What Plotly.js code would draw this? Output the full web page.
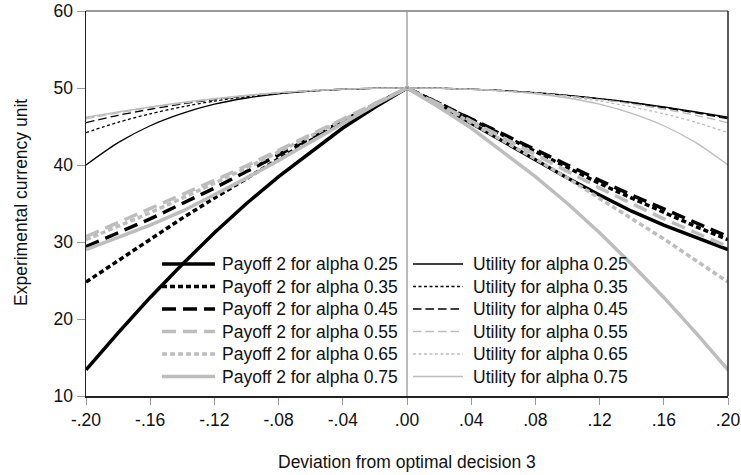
<!DOCTYPE html>
<html>
<head>
<meta charset="utf-8">
<script src="https://cdn.plot.ly/plotly-3.0.1.min.js"></script>
<style>html,body{margin:0;padding:0;background:#fff;}#chart{width:741px;height:475px;}</style>
</head>
<body>
<div id="chart"></div>
<script>
// Deviation from optimal decision (x axis)
var deviation = [-0.20,-0.18,-0.16,-0.14,-0.12,-0.10,-0.08,-0.06,-0.04,-0.02,0,0.02,0.04,0.06,0.08,0.10,0.12,0.14,0.16,0.18,0.20];

// Payoff 2 series
var payoff25 = [13.4,18.2,22.8,27.1,31.2,35.0,38.5,41.7,44.8,47.5,50,47.8,45.4,43.0,40.6,38.3,36.1,34.0,32.2,30.6,29.0];
var payoff35 = [24.8,27.6,30.4,33.1,35.7,38.3,40.8,43.2,45.5,47.8,50,48.0,45.9,43.8,41.7,39.6,37.6,35.7,33.8,32.0,30.3];
var payoff45 = [29.4,31.2,33.0,35.0,37.0,39.15,41.3,43.5,45.7,47.9,50,48.0,46.0,43.9,41.9,39.9,38.0,36.1,34.3,32.5,30.7];
var payoff55 = [30.7,32.5,34.3,36.1,38.0,39.9,41.9,43.9,46.0,48.0,50,47.9,45.7,43.5,41.3,39.15,37.0,35.0,33.0,31.2,29.4];
var payoff65 = [30.3,32.0,33.8,35.7,37.6,39.6,41.7,43.8,45.9,48.0,50,47.8,45.5,43.2,40.8,38.3,35.7,33.1,30.4,27.6,24.8];
var payoff75 = [29.0,30.6,32.2,34.0,36.1,38.3,40.6,43.0,45.4,47.8,50,47.5,44.8,41.7,38.5,35.0,31.2,27.1,22.8,18.2,13.4];

// Utility series
var util25 = [40.0,42.9,45.1,46.7,47.9,48.7,49.25,49.6,49.84,49.96,50,49.96,49.85,49.66,49.4,49.05,48.63,48.13,47.55,46.9,46.2];
var util35 = [44.2,45.55,46.65,47.55,48.3,48.85,49.3,49.6,49.83,49.96,50,49.96,49.85,49.65,49.38,49.03,48.6,48.1,47.5,46.85,46.1];
var util45 = [45.5,46.45,47.24,47.93,48.5,48.97,49.35,49.64,49.84,49.96,50,49.96,49.84,49.64,49.36,49.0,48.56,48.04,47.44,46.76,46.0];
var util55 = [46.0,46.76,47.44,48.04,48.56,49.0,49.36,49.64,49.84,49.96,50,49.96,49.84,49.64,49.35,48.97,48.5,47.93,47.24,46.45,45.5];
var util65 = [46.1,46.85,47.5,48.1,48.6,49.03,49.38,49.65,49.85,49.96,50,49.96,49.83,49.6,49.3,48.85,48.3,47.55,46.65,45.55,44.2];
var util75 = [46.2,46.9,47.55,48.13,48.63,49.05,49.4,49.66,49.85,49.96,50,49.96,49.84,49.6,49.25,48.7,47.9,46.7,45.1,42.9,40.0];

var payoffNames = ["Payoff 2 for alpha 0.25","Payoff 2 for alpha 0.35","Payoff 2 for alpha 0.45","Payoff 2 for alpha 0.55","Payoff 2 for alpha 0.65","Payoff 2 for alpha 0.75"];
var utilNames = ["Utility for alpha 0.25","Utility for alpha 0.35","Utility for alpha 0.45","Utility for alpha 0.55","Utility for alpha 0.65","Utility for alpha 0.75"];

var xTickVals = [-0.20,-0.16,-0.12,-0.08,-0.04,0,0.04,0.08,0.12,0.16,0.20];
var xTickText = ["-.20","-.16","-.12","-.08","-.04",".00",".04",".08",".12",".16",".20"];
var yTickVals = [10,20,30,40,50,60];
var xTitle = "Deviation from optimal decision 3";
var yTitle = "Experimental currency unit";

var BLACK = "#000000", GRAY = "#bdbdbd";
var payoffData = [payoff25,payoff35,payoff45,payoff55,payoff65,payoff75];
var utilData = [util25,util35,util45,util55,util65,util75];
var payoffStyle = [
  {color:BLACK, dash:"solid"},
  {color:BLACK, dash:"5px,3px"},
  {color:BLACK, dash:"14px,7px"},
  {color:GRAY, dash:"14px,7px"},
  {color:GRAY, dash:"5px,3px"},
  {color:GRAY, dash:"solid"}
];
var utilStyle = [
  {color:BLACK, dash:"solid"},
  {color:BLACK, dash:"3px,2.5px"},
  {color:BLACK, dash:"8.5px,4px"},
  {color:GRAY, dash:"8.5px,4px"},
  {color:GRAY, dash:"3px,2.5px"},
  {color:GRAY, dash:"solid"}
];
var THICK = 3.5, THIN = 1.3;

var traces = [];
for (var i = 0; i < 6; i++) {
  traces.push({
    x: deviation, y: payoffData[i], type: "scatter", mode: "lines", name: payoffNames[i],
    line: {color: payoffStyle[i].color, dash: payoffStyle[i].dash, width: THICK},
    showlegend: false, hoverinfo: "skip"
  });
}
for (var j = 0; j < 6; j++) {
  traces.push({
    x: deviation, y: utilData[j], type: "scatter", mode: "lines", name: utilNames[j],
    line: {color: utilStyle[j].color, dash: utilStyle[j].dash, width: THIN, shape: "spline", smoothing: 0.8},
    showlegend: false, hoverinfo: "skip"
  });
}

var FONT = "Liberation Sans, Arial, Helvetica, sans-serif";
var FS = 17.5;
var W = 741, H = 475, ML = 86, MR = 13, MT = 11, MB = 79;
var PW = W - ML - MR, PH = H - MT - MB;
function px(X) { return (X - ML) / PW; }
function py(Y) { return (H - MB - Y) / PH; }

var shapes = [
  {type: "line", xref: "x", yref: "paper", x0: 0, x1: 0, y0: 0, y1: 1, line: {color: "#a6a6a6", width: 1.5}, layer: "below"},
  {type: "line", xref: "paper", yref: "paper", x0: 0, x1: 1, y0: 1, y1: 1, line: {color: "#999", width: 2}},
  {type: "line", xref: "paper", yref: "paper", x0: 1, x1: 1, y0: 0, y1: 1, line: {color: "#222", width: 1.5}}
];
var annotations = [
  {xref: "paper", yref: "paper", x: 0.5, y: py(462), xanchor: "center", yanchor: "middle",
   showarrow: false, text: xTitle, font: {family: FONT, size: FS, color: "#111"}},
  {xref: "paper", yref: "paper", x: px(21), y: py(203), xanchor: "center", yanchor: "middle",
   showarrow: false, textangle: -90, text: yTitle, font: {family: FONT, size: FS, color: "#111"}}
];

// Legend (two columns, drawn as shapes + text annotations)
var rowY0 = 264, rowStep = 22.5;
var cols = [
  {lx0: 162, lx1: 215, tx: 220, names: payoffNames, styles: payoffStyle, w: THICK},
  {lx0: 413, lx1: 463, tx: 471, names: utilNames, styles: utilStyle, w: THIN}
];
cols.forEach(function (c) {
  for (var r = 0; r < 6; r++) {
    var Y = rowY0 + r * rowStep;
    shapes.push({type: "line", xref: "paper", yref: "paper",
      x0: px(c.lx0), x1: px(c.lx1), y0: py(Y), y1: py(Y),
      line: {color: c.styles[r].color, dash: c.styles[r].dash, width: c.w}});
    annotations.push({xref: "paper", yref: "paper", x: px(c.tx), y: py(Y),
      xanchor: "left", yanchor: "middle", showarrow: false, text: c.names[r],
      font: {family: FONT, size: FS, color: "#111"}});
  }
});

var layout = {
  width: W, height: H,
  margin: {l: ML, r: MR, t: MT, b: MB},
  paper_bgcolor: "#ffffff", plot_bgcolor: "#ffffff",
  font: {family: FONT, size: FS, color: "#111111"},
  showlegend: false,
  xaxis: {
    range: [-0.2, 0.2], tickvals: xTickVals, ticktext: xTickText,
    ticks: "outside", ticklen: 7, tickcolor: "#999", tickwidth: 1,
    showline: true, linecolor: "#222", linewidth: 1.5,
    showgrid: false, zeroline: false, automargin: false,
    tickfont: {family: FONT, size: FS, color: "#111"}
  },
  yaxis: {
    range: [10, 60], tickvals: yTickVals,
    ticks: "outside", ticklen: 8, tickcolor: "#999", tickwidth: 1,
    showline: true, linecolor: "#222", linewidth: 1.5,
    showgrid: false, zeroline: false, automargin: false,
    tickfont: {family: FONT, size: FS, color: "#111"}
  },
  shapes: shapes,
  annotations: annotations
};

Plotly.newPlot("chart", traces, layout, {displayModeBar: false, staticPlot: true});
</script>
</body>
</html>
